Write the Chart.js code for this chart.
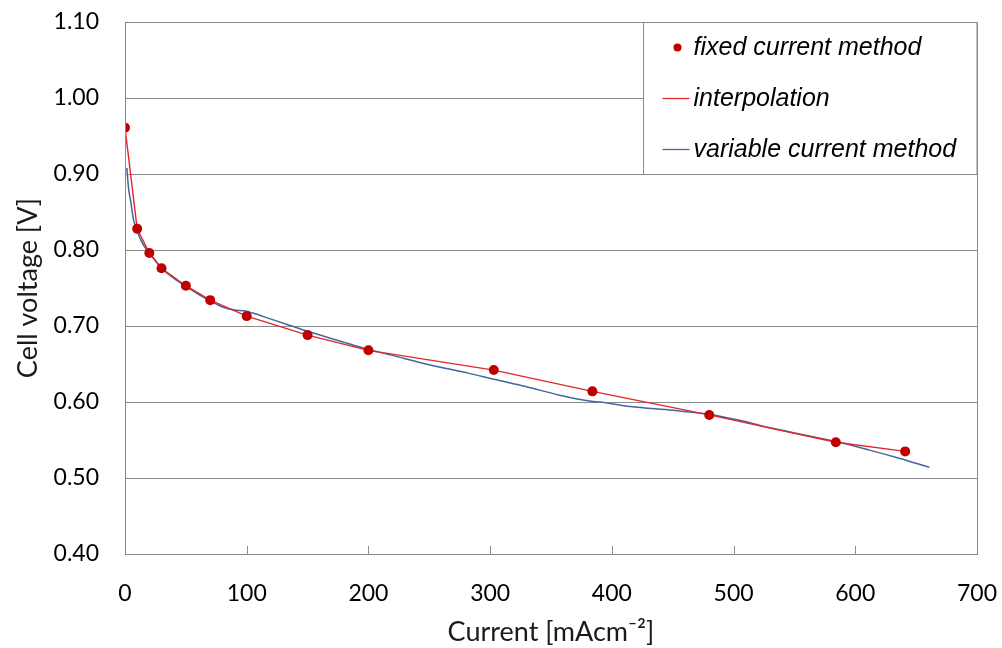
<!DOCTYPE html>
<html><head><meta charset="utf-8">
<script src="https://cdn.jsdelivr.net/npm/chart.js@4.4.1/dist/chart.umd.min.js"></script>
<style>html,body{margin:0;padding:0;background:#fff;}canvas{display:block;}</style>
</head><body>
<canvas id="c" width="1002" height="648"></canvas>
<script>
// ---- data ----
const fixedCurrent = [0, 10, 20, 30, 50, 70, 100, 150, 200, 303, 384, 480, 584, 641];
const fixedVoltage = [0.961, 0.828, 0.796, 0.776, 0.753, 0.734, 0.713, 0.688, 0.668, 0.642, 0.614, 0.583, 0.547, 0.535];

const variableCurrent = [1.5, 3, 4.5, 7, 10, 13, 17, 22, 30, 40, 50, 60, 70, 80, 90, 98, 105, 120, 135, 150, 175, 200, 218, 250, 282, 303, 330, 357, 383, 390, 415, 450, 479, 505, 530, 560, 584, 611, 636, 661];
const variableVoltage = [0.908, 0.880, 0.866, 0.840, 0.825, 0.813, 0.802, 0.792, 0.776, 0.763, 0.752, 0.742, 0.733, 0.725, 0.721, 0.720, 0.717, 0.709, 0.701, 0.693, 0.681, 0.669, 0.662, 0.649, 0.638, 0.630, 0.620, 0.609, 0.601, 0.600, 0.594, 0.589, 0.584, 0.576, 0.566, 0.556, 0.548, 0.537, 0.526, 0.514];

const xTickValues = [0, 100, 200, 300, 400, 500, 600, 700];
const yTickValues = [0.40, 0.50, 0.60, 0.70, 0.80, 0.90, 1.00, 1.10];
const seriesLabels = ['fixed current method', 'interpolation', 'variable current method'];
const xAxisTitle = 'Current [mAcm\u207B\u00B2]';
const yAxisTitle = 'Cell voltage [V]';

// ---- styles ----
const DOT_COLOR = '#c00000';
const RED_LINE = '#e3262b';
const BLUE_LINE = '#41679c';
const FRAME = '#8a8a8a';

const toPoints = (xs, ys) => xs.map((x, i) => ({ x: x, y: ys[i] }));

const framePlugin = {
  id: 'frameLegend',
  afterDatasetsDraw(chart) {
    const ctx = chart.ctx;
    const a = chart.chartArea;
    const xs = chart.scales.x, ys = chart.scales.y;
    ctx.save();
    ctx.strokeStyle = FRAME;
    ctx.lineWidth = 1;
    xTickValues.forEach(v => {
      const px = Math.round(xs.getPixelForValue(v)) + 0.5;
      ctx.beginPath();
      ctx.moveTo(px, a.bottom);
      ctx.lineTo(px, a.bottom - 8);
      ctx.stroke();
    });
    const lx = Math.round(a.right - 334) + 0.5;
    const ly = Math.round(a.top) + 0.5;
    const lb = Math.round(ys.getPixelForValue(0.90)) + 0.5;
    ctx.fillStyle = '#ffffff';
    ctx.fillRect(lx, ly, a.right - lx, lb - ly);
    ctx.strokeStyle = FRAME;
    ctx.strokeRect(lx, ly, a.right - lx, lb - ly);
    const rows = [ly + 25, ly + 76, ly + 127];
    ctx.font = 'italic 25px "Liberation Sans", Arial, sans-serif';
    ctx.textBaseline = 'middle';
    ctx.textAlign = 'left';
    const tx = lx + 50;
    ctx.fillStyle = DOT_COLOR;
    ctx.beginPath();
    ctx.arc(lx + 34, rows[0], 4, 0, Math.PI * 2);
    ctx.fill();
    ctx.strokeStyle = RED_LINE;
    ctx.lineWidth = 1.3;
    ctx.beginPath(); ctx.moveTo(lx + 19, rows[1]); ctx.lineTo(lx + 46, rows[1]); ctx.stroke();
    ctx.strokeStyle = BLUE_LINE;
    ctx.beginPath(); ctx.moveTo(lx + 19, rows[2]); ctx.lineTo(lx + 46, rows[2]); ctx.stroke();
    ctx.fillStyle = '#000000';
    seriesLabels.forEach((t, i) => ctx.fillText(t, tx, rows[i] + 1));
    ctx.strokeStyle = FRAME;
    ctx.lineWidth = 1;
    ctx.strokeRect(Math.round(a.left) + 0.5, Math.round(a.top) + 0.5, Math.round(a.right - a.left), Math.round(a.bottom - a.top));
    ctx.restore();
  }
};

new Chart(document.getElementById('c'), {
  type: 'scatter',
  data: {
    datasets: [
      {
        label: seriesLabels[0],
        data: toPoints(fixedCurrent, fixedVoltage),
        showLine: false,
        pointRadius: 5,
        pointBackgroundColor: DOT_COLOR,
        pointBorderColor: DOT_COLOR,
        pointBorderWidth: 0
      },
      {
        label: seriesLabels[1],
        data: toPoints(fixedCurrent, fixedVoltage),
        showLine: true,
        borderColor: RED_LINE,
        borderWidth: 1.4,
        pointRadius: 0,
        tension: 0
      },
      {
        label: seriesLabels[2],
        data: toPoints(variableCurrent, variableVoltage),
        showLine: true,
        borderColor: BLUE_LINE,
        borderWidth: 1.5,
        pointRadius: 0,
        tension: 0.3,
        cubicInterpolationMode: 'monotone'
      }
    ]
  },
  options: {
    responsive: false,
    animation: false,
    layout: { padding: { top: 22, right: 25, left: 0, bottom: 0 } },
    plugins: { legend: { display: false }, tooltip: { enabled: false } },
    scales: {
      x: {
        type: 'linear',
        min: 0, max: 700,
        afterBuildTicks: s => { s.ticks = xTickValues.map(v => ({ value: v })); },
        afterFit: s => { s.height = 94; s.paddingLeft = 0; s.paddingRight = 0; },
        grid: { display: false, drawTicks: false },
        border: { display: false },
        ticks: { padding: 26, color: '#000', font: { family: 'Lato', size: 23 }, maxRotation: 0 },
        title: { display: true, text: xAxisTitle, color: '#1a1a1a', font: { family: 'Lato', size: 27 }, padding: { top: 0, bottom: 0 } }
      },
      y: {
        type: 'linear',
        min: 0.4, max: 1.1,
        afterBuildTicks: s => { s.ticks = yTickValues.map(v => ({ value: v })); },
        afterFit: s => { s.width = 125; s.paddingTop = 0; s.paddingBottom = 0; },
        grid: { color: FRAME, lineWidth: 1, drawTicks: false },
        border: { display: false },
        ticks: { padding: 26, color: '#000', font: { family: 'Lato', size: 23 }, callback: v => Number(v).toFixed(2) },
        title: { display: true, text: yAxisTitle, color: '#1a1a1a', font: { family: 'Lato', size: 27 }, padding: { top: 12, bottom: 0 } }
      }
    }
  },
  plugins: [framePlugin]
});
</script>
</body></html>
